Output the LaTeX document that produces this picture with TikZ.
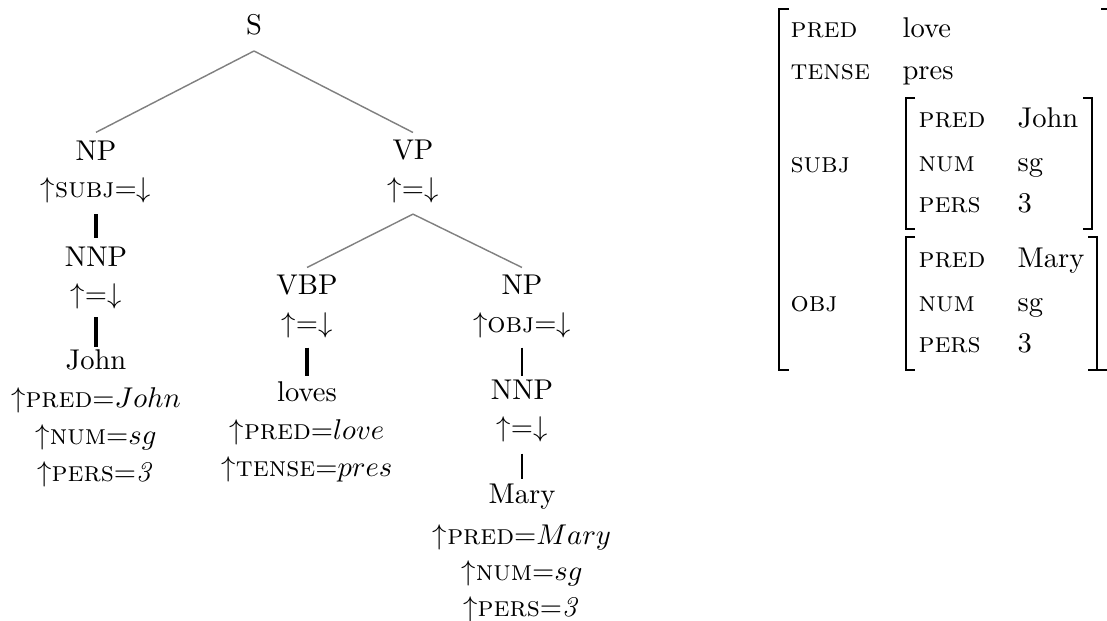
\documentclass[tikz,border=0pt]{standalone}
\begin{document}
\begin{tikzpicture}[x=0.35pt,y=-0.35pt,
  lbl/.style={inner sep=0pt, anchor=base},
  avm/.style={inner sep=0pt, anchor=base west},
  branch/.style={draw=black!50, line width=0.5pt},
  heavy/.style={draw=black, line width=1.4pt},
  light/.style={draw=black, line width=0.5pt},
  brk/.style={draw=black, line width=0.6pt}]
\useasboundingbox (0,0) rectangle (1107,621);
% ---------- tree ----------
\node[lbl] (S) at (254,35) {S};
% subject branch
\node[lbl] (NP) at (96,161) {NP};
\node[lbl] (NPf) at (96,198) {$\uparrow$\textsc{subj}$=\downarrow$};
\node[lbl] (NNPa) at (96,267) {NNP};
\node[lbl] (NNPaf) at (96,304) {$\uparrow=\downarrow$};
\node[lbl] (John) at (96,370) {John};
\node[lbl] (Ja) at (96,408) {$\uparrow$\textsc{pred}{$=$}{$John$}};
\node[lbl] (Jb) at (96,445) {$\uparrow$\textsc{num}{$=$}{$sg$}};
\node[lbl] (Jc) at (96,482) {$\uparrow$\textsc{pers}{$=$}{$\mathit{3}$}};
% VP branch
\node[lbl] (VP) at (413,160) {VP};
\node[lbl] (VPf) at (413,198) {$\uparrow=\downarrow$};
\node[lbl] (VBP) at (307,295) {VBP};
\node[lbl] (VBPf) at (307,333) {$\uparrow=\downarrow$};
\node[lbl] (loves) at (307,402) {loves};
\node[lbl] (La) at (307,440) {$\uparrow$\textsc{pred}{$=$}{$love$}};
\node[lbl] (Lb) at (307,477) {$\uparrow$\textsc{tense}{$=$}{$pres$}};
\node[lbl] (NPo) at (522,295) {NP};
\node[lbl] (NPof) at (522,333) {$\uparrow$\textsc{obj}$=\downarrow$};
\node[lbl] (NNPb) at (522,400) {NNP};
\node[lbl] (NNPbf) at (522,437) {$\uparrow=\downarrow$};
\node[lbl] (Mary) at (522,503) {Mary};
\node[lbl] (Ma) at (522,545) {$\uparrow$\textsc{pred}{$=$}{$Mary$}};
\node[lbl] (Mb) at (522,580) {$\uparrow$\textsc{num}{$=$}{$sg$}};
\node[lbl] (Mc) at (522,616) {$\uparrow$\textsc{pers}{$=$}{$\mathit{3}$}};
% connectors
\draw[branch] ([yshift=-5.6pt]S.base) -- ([yshift=3pt]NP.north);
\draw[branch] ([yshift=-5.6pt]S.base) -- ([yshift=2.6pt]VP.north);
\draw[branch] ([yshift=-3.5pt]VPf.south) -- ([yshift=2.6pt]VBP.north);
\draw[branch] ([yshift=-3.5pt]VPf.south) -- ([yshift=2.6pt]NPo.north);
\draw[heavy] ([yshift=-3.5pt]NPf.south) -- ([yshift=3pt]NNPa.north);
\draw[heavy] ([yshift=-2.5pt]NNPaf.south) -- ([yshift=1pt]John.north);
\draw[heavy] ([yshift=-3pt]VBPf.south) -- ([yshift=1.8pt]loves.north);
\draw[light] ([yshift=-3pt]NPof.south) -- ([yshift=1.2pt]NNPb.north);
\draw[light] ([yshift=-3.7pt]NNPbf.south) -- ([yshift=1.2pt]Mary.north);
% ---------- AVM ----------
\node[avm] (aPRED) at (790,38) {\textsc{pred}};
\node[avm] (aPREDv) at (902,38) {love};
\node[avm] (aTENSE) at (790,80) {\textsc{tense}};
\node[avm] (aTENSEv) at (902,80) {pres};
\node[avm] (aSUBJ) at (790,173) {\textsc{subj}};
\node[avm] (sPRED) at (918,128) {\textsc{pred}};
\node[avm] (sPREDv) at (1017,128) {John};
\node[avm] (sNUM) at (918,172) {\textsc{num}};
\node[avm] (sNUMv) at (1017,172) {sg};
\node[avm] (sPERS) at (918,213) {\textsc{pers}};
\node[avm] (sPERSv) at (1017,213) {3};
\node[avm] (aOBJ) at (790,312) {\textsc{obj}};
\node[avm] (oPRED) at (918,268) {\textsc{pred}};
\node[avm] (oPREDv) at (1017,268) {Mary};
\node[avm] (oNUM) at (918,312) {\textsc{num}};
\node[avm] (oNUMv) at (1017,312) {sg};
\node[avm] (oPERS) at (918,353) {\textsc{pers}};
\node[avm] (oPERSv) at (1017,353) {3};
% brackets
\draw[brk] (789,9) -- (779,9) -- (779,370) -- (789,370);
\draw[brk] (1101,9) -- (1107,9);
\draw[brk] (1098,370) -- (1107,370);
\draw[brk] (915,98) -- (906,98) -- (906,229) -- (915,229);
\draw[brk] (1083,98) -- (1092,98) -- (1092,229) -- (1083,229);
\draw[brk] (915,237) -- (906,237) -- (906,370) -- (915,370);
\draw[brk] (1088,237) -- (1097,237) -- (1097,370) -- (1088,370);
\end{tikzpicture}
\end{document}
